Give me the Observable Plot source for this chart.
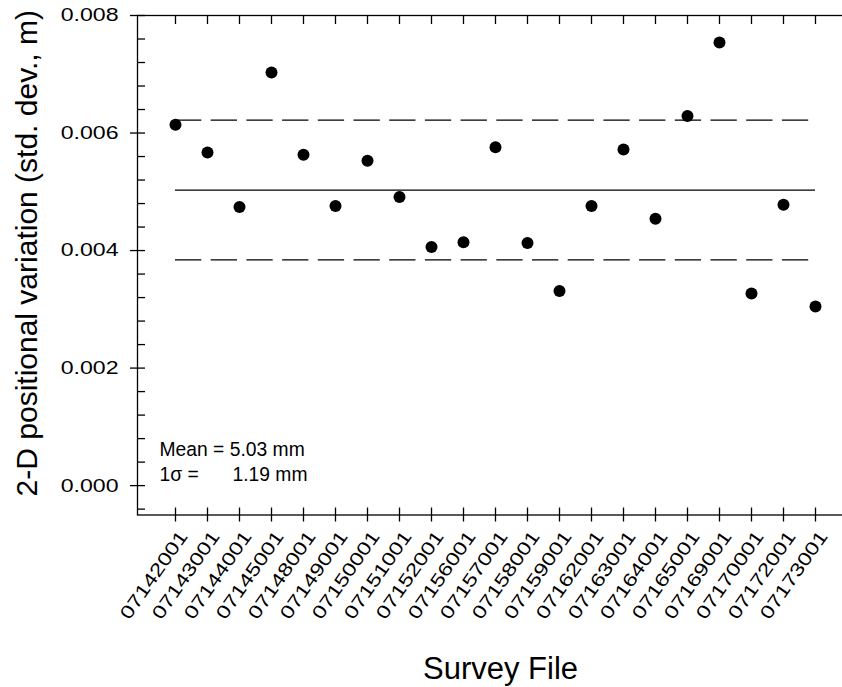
<!DOCTYPE html>
<html>
<head>
<meta charset="utf-8">
<script src="https://cdn.jsdelivr.net/npm/d3@7"></script>
<script src="https://cdn.jsdelivr.net/npm/@observablehq/plot@0.6"></script>
<style>
  html, body { margin: 0; padding: 0; background: #fff; overflow: hidden; }
</style>
</head>
<body>
<div id="chart"></div>
<script>
const surveyFiles = ["07142001","07143001","07144001","07145001","07148001","07149001","07150001","07151001","07152001","07156001","07157001","07158001","07159001","07162001","07163001","07164001","07165001","07169001","07170001","07172001","07173001"];
const variation = [0.00614,0.00567,0.00474,0.00703,0.00563,0.00476,0.00553,0.00491,0.00406,0.00414,0.00576,0.00413,0.00331,0.00476,0.00572,0.00454,0.00629,0.00754,0.00327,0.00478,0.00305];
const meanValue = 0.00503;
const sigmaValue = 0.00119;
const yMajorTicks = [0, 0.002, 0.004, 0.006, 0.008];
const yMinorTicks = [-0.0004, 0.0004, 0.0008, 0.0012, 0.0016, 0.0024, 0.0028, 0.0032, 0.0036, 0.0044, 0.0048, 0.0052, 0.0056, 0.0064, 0.0068, 0.0072, 0.0076];
const yLabel = "2-D positional variation (std. dev., m)";
const xLabel = "Survey File";
const meanText = "Mean = 5.03 mm";
const sigmaText = "1\u03c3 =";
const sigmaValueText = "1.19 mm";

const rows = surveyFiles.map((f, i) => ({file: f, value: variation[i]}));
const first = surveyFiles[0], last = surveyFiles[surveyFiles.length - 1];
const noLabel = () => "";

const chart = Plot.plot({
  width: 842,
  height: 687,
  marginLeft: 137,
  marginRight: 0,
  marginTop: 15,
  marginBottom: 172.5,
  style: {fontFamily: "'Liberation Sans', Arial, sans-serif", fontSize: "18.5px", color: "black", background: "white"},
  x: {type: "point", domain: surveyFiles, padding: 0.873, align: 0.582},
  y: {domain: [-0.0005, 0.008]},
  marks: [
    Plot.frame({stroke: "black", strokeWidth: 1.3, insetRight: -3}),
    // y axis
    Plot.axisY(yMajorTicks, {tickSize: 15, dx: 8, tickFormat: noLabel, label: null, strokeWidth: 1.3}),
    Plot.axisY(yMinorTicks, {tickSize: 8, dx: 8, tickFormat: noLabel, label: null, strokeWidth: 1.3}),
    Plot.axisY(yMajorTicks, {tickSize: 0, tickPadding: 19, tickFormat: d3.format(".3f"), label: null, fontSize: 18.5}),
    // x axis
    Plot.axisX({tickSize: 14, dy: -7, tickFormat: noLabel, label: null, strokeWidth: 1.3}),
    Plot.axisX({anchor: "top", tickSize: 8, dy: 8, tickFormat: noLabel, label: null, strokeWidth: 1.3}),
    Plot.axisX({tickSize: 0, tickPadding: 18, dx: 8, tickRotate: -55, textAnchor: "end", lineAnchor: "middle", label: null, fontSize: 18.5}),
    // mean and +-1 sigma lines
    Plot.ruleY([meanValue], {x1: () => first, x2: () => last, stroke: "black", strokeWidth: 1.3}),
    Plot.ruleY([meanValue + sigmaValue, meanValue - sigmaValue], {x1: () => first, x2: () => last, stroke: "black", strokeWidth: 1.3, strokeDasharray: "26.3,9.4"}),
    // data points
    Plot.dot(rows, {x: "file", y: "value", r: 6, fill: "black", stroke: null}),
    // annotations
    Plot.text([meanText], {text: d => d, frameAnchor: "bottom-left", textAnchor: "start", lineAnchor: "bottom", dx: 22, dy: -59.5, fontSize: 19.3}),
    Plot.text([sigmaText], {text: d => d, frameAnchor: "bottom-left", textAnchor: "start", lineAnchor: "bottom", dx: 22, dy: -34.5, fontSize: 19.3}),
    Plot.text([sigmaValueText], {text: d => d, frameAnchor: "bottom-left", textAnchor: "end", lineAnchor: "bottom", dx: 170, dy: -34.5, fontSize: 19.3}),
    // axis titles
    Plot.text([yLabel], {text: d => d, frameAnchor: "left", rotate: -90, textAnchor: "middle", lineAnchor: "bottom", dx: -101, dy: -12, fontSize: 30}),
    Plot.text([xLabel], {text: d => d, frameAnchor: "bottom", textAnchor: "middle", lineAnchor: "bottom", dx: 10.5, dy: 163.5, fontSize: 31})
  ]
});

document.getElementById("chart").appendChild(chart);

// widen the tick-label glyphs horizontally, as in the reference
chart.querySelectorAll('[aria-label$="axis tick label"] text').forEach(el => {
  if (!el.textContent) return;
  const len = el.getComputedTextLength();
  if (len > 0) {
    el.setAttribute("textLength", (len * 1.25).toFixed(2));
    el.setAttribute("lengthAdjust", "spacingAndGlyphs");
  }
});
</script>
</body>
</html>
